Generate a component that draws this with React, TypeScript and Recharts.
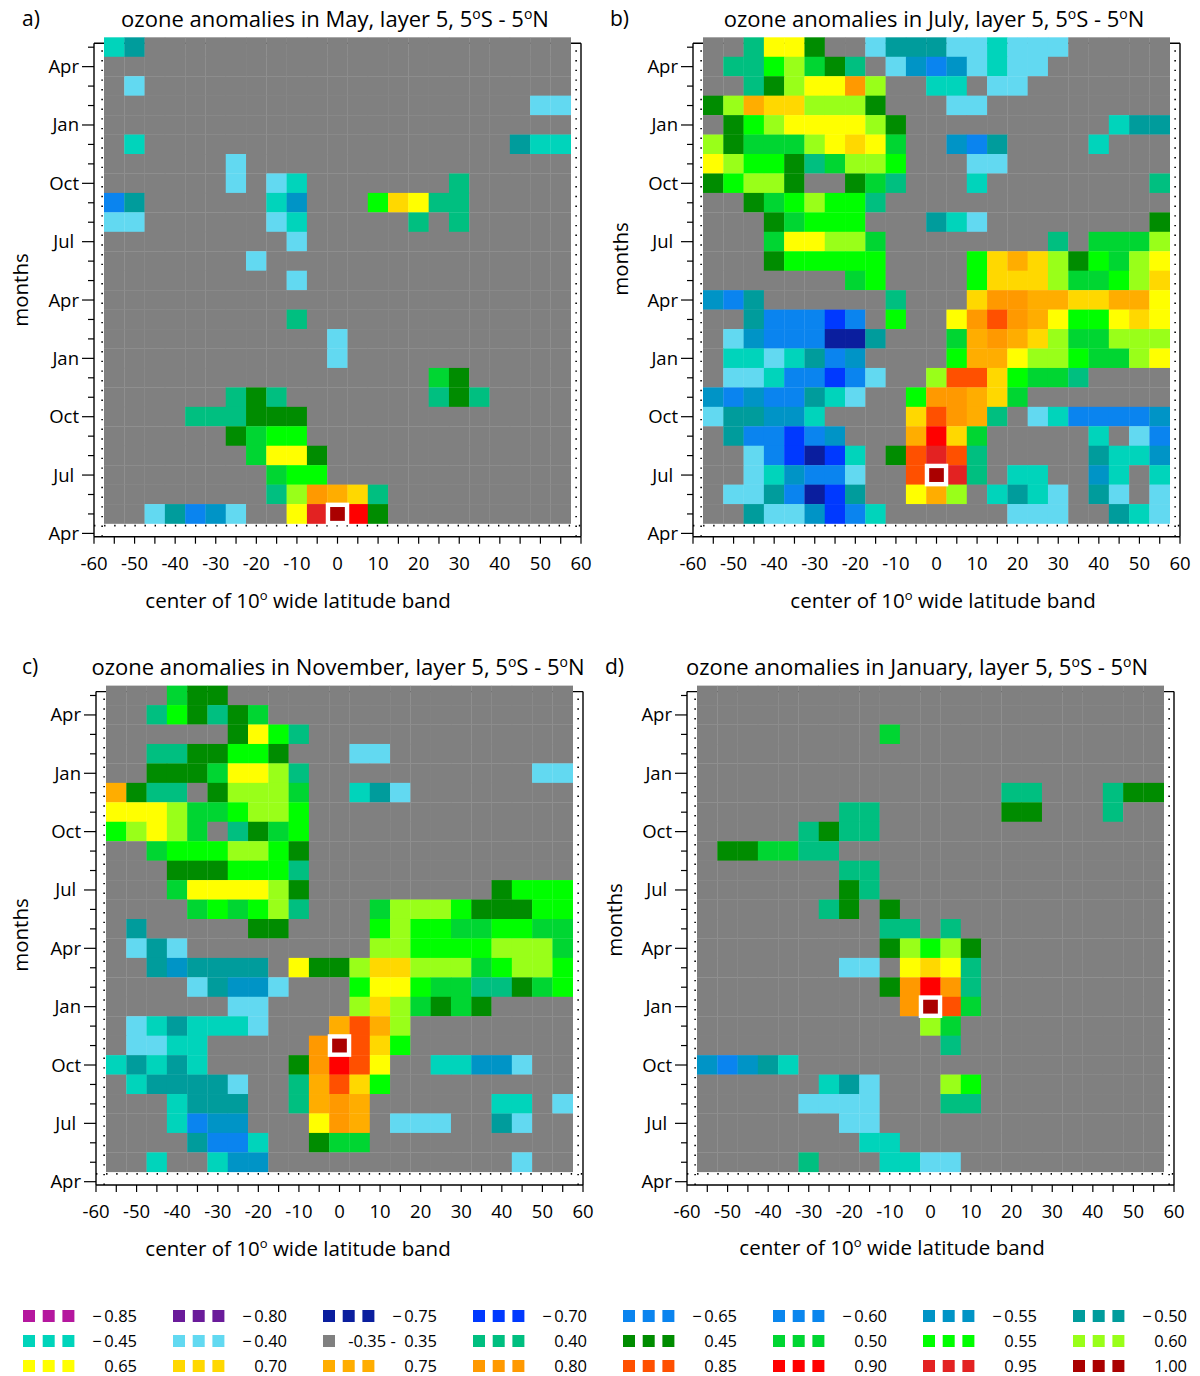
import React from 'react';
import { ScatterChart, Scatter, XAxis, YAxis, ReferenceLine } from 'recharts';

// ---------- data ----------
const LATITUDES = [-55, -50, -45, -40, -35, -30, -25, -20, -15, -10, -5, 0, 5, 10, 15, 20, 25, 30, 35, 40, 45, 50, 55];
const LAT_TICKS = [-60, -55, -50, -45, -40, -35, -30, -25, -20, -15, -10, -5, 0, 5, 10, 15, 20, 25, 30, 35, 40, 45, 50, 55, 60];
const LAT_LABELS = [-60, -50, -40, -30, -20, -10, 0, 10, 20, 30, 40, 50, 60];
const MONTH_TICKS = [0, 1, 2, 3, 4, 5, 6, 7, 8, 9, 10, 11, 12, 13, 14, 15, 16, 17, 18, 19, 20, 21, 22, 23, 24, 25];
const MONTH_LABELS: Record<number, string> = { 0: 'Apr', 3: 'Jul\u00A0', 6: 'Oct', 9: 'Jan', 12: 'Apr', 15: 'Jul\u00A0', 18: 'Oct', 21: 'Jan', 24: 'Apr' };

// class codes: '1'..'0' negative classes (-0.85 .. -0.40), '.' = -0.35..0.35, 'a'..'m' positive classes (0.40 .. 1.00)
const LEGEND_CODES = ['1', '2', '3', '4', '5', '6', '7', '8', '9', '0', '.', 'a', 'b', 'c', 'd', 'e', 'f', 'g', 'h', 'i', 'j', 'k', 'l', 'm'];
const LEGEND_LABELS = ['\u2212\u20090.85', '\u2212\u20090.80', '\u2212\u20090.75', '\u2212\u20090.70', '\u2212\u20090.65', '\u2212\u20090.60', '\u2212\u20090.55', '\u2212\u20090.50',
  '\u2212\u20090.45', '\u2212\u20090.40', '-0.35 -\u00A0 0.35', '0.40', '0.45', '0.50', '0.55', '0.60',
  '0.65', '0.70', '0.75', '0.80', '0.85', '0.90', '0.95', '1.00'];

// rows listed from month index 25 (top) down to month index 1 (bottom); '|' separates groups of 5 latitudes
const MAY_ROWS = [
  '98...|.....|.....|.....|...',
  '.....|.....|.....|.....|...',
  '.0...|.....|.....|.....|...',
  '.....|.....|.....|.....|.00',
  '.....|.....|.....|.....|...',
  '.9...|.....|.....|.....|899',
  '.....|.0...|.....|.....|...',
  '.....|.0.09|.....|..a..|...',
  '58...|...97|...dg|faa..|...',
  '00...|...09|.....|a.a..|...',
  '.....|....0|.....|.....|...',
  '.....|..0..|.....|.....|...',
  '.....|....0|.....|.....|...',
  '.....|.....|.....|.....|...',
  '.....|....a|.....|.....|...',
  '.....|.....|.0...|.....|...',
  '.....|.....|.0...|.....|...',
  '.....|.....|.....|.cb..|...',
  '.....|.aba.|.....|.aba.|...',
  '....a|aabbb|.....|.....|...',
  '.....|.bcdd|.....|.....|...',
  '.....|..cff|b....|.....|...',
  '.....|...cd|d....|.....|...',
  '.....|...ae|ihga.|.....|...',
  '..085|70..f|lmkb.|.....|...',
];

const JUL_ROWS = [
  '..aff|b..08|88009|000..|...',
  '.aade|cba.0|75709|00...|...',
  '..abe|ffie.|.99.0|0....|...',
  'behgg|eeeb.|..00.|.....|...',
  '.bdef|fffeb|.....|.....|988',
  'ebccc|efgfc|..758|....9|...',
  'feddb|aceed|...00|.....|...',
  'bdeeb|..bca|...9.|.....|..a',
  '..bcd|edda.|.....|.....|...',
  '...bc|ddd..|.890.|.....|..b',
  '...cf|feec.|.....|..a.c|cce',
  '...bd|dddd.|...dg|hgebd|cef',
  '.....|..cd.|...dg|ggecc|deg',
  '758..|....a|...gi|ihhgg|hhf',
  '..855|545.d|..fij|ihfdd|fgf',
  '.0755|5338.|..chi|hgecc|eee',
  '.9909|857..|..dhh|feedc|cef',
  '.0095|5450.|.ejjg|dcca.|...',
  '75755|890..|diihg|c....|...',
  '08877|9....|gjiha|.0955|557',
  '.8554|57...|hkgc.|....9|.05',
  '..054|349.b|jlja.|....8|997',
  '..097|550..|jmla.|99..7|9.9',
  '.0085|348..|fhe.9|890.8|0.0',
  '..800|7459.|.....|000..|890',
];

const NOV_ROWS = [
  '...cb|b....|.....|.....|...',
  '..adb|abc..|.....|.....|...',
  '.....|.bfda|.....|.....|...',
  '..aab|bddb.|..00.|.....|...',
  '..bbb|cffea|.....|.....|.00',
  'hbaa.|beeec|..980|.....|...',
  'fffec|cdeed|.....|.....|...',
  'defec|.abcd|.....|.....|...',
  '..cdd|deedb|.....|.....|...',
  '...bb|bddda|.....|.....|...',
  '...cf|fffeb|.....|....b|ddd',
  '....c|dcdea|...ce|eedbb|bdd',
  '.8...|..bb.|...de|ddccd|dcc',
  '.080.|.....|...ee|dddde|eec',
  '..878|888.f|bbegg|eeecd|eed',
  '....0|8770.|..dff|dccaa|bcd',
  '.....|.00..|..ege|cbcb.|...',
  '.0989|990..|.hjhe|.....|...',
  '.0099|.....|imjgd|.....|...',
  '98989|....b|ikjf.|.9977|0..',
  '.9888|80..a|hjgd.|.....|...',
  '...98|88..a|hih..|....9|9.0',
  '...95|77...|fih.0|00..8|0..',
  '....8|559..|bcc..|.....|...',
  '..9..|977..|.....|.....|0..',
];

const JAN_ROWS = [
  '.....|.....|.....|.....|...',
  '.....|.....|.....|.....|...',
  '.....|....c|.....|.....|...',
  '.....|.....|.....|.....|...',
  '.....|.....|.....|.....|...',
  '.....|.....|.....|aa...|abb',
  '.....|..aa.|.....|bb...|a..',
  '.....|abaa.|.....|.....|...',
  '.bbcc|aa...|.....|.....|...',
  '.....|..aa.|.....|.....|...',
  '.....|..ba.|.....|.....|...',
  '.....|.ab.b|.....|.....|...',
  '.....|....a|a.a..|.....|...',
  '.....|....b|edeb.|.....|...',
  '.....|..00.|fgfa.|.....|...',
  '.....|....b|ikia.|.....|...',
  '.....|.....|imjc.|.....|...',
  '.....|.....|.ec..|.....|...',
  '.....|.....|..a..|.....|...',
  '75789|.....|.....|.....|...',
  '.....|.980.|..ed.|.....|...',
  '.....|0000.|..aa.|.....|...',
  '.....|..00.|.....|.....|...',
  '.....|...99|.....|.....|...',
  '.....|a...9|900..|.....|...',
];

// ---------- styles ----------
const COLORS: Record<string, string> = {
  '1': '#b5179e', '2': '#6a1b9a', '3': '#0a1e9e', '4': '#0039ff', '5': '#0a84ef',
  '6': '#0a86ee', '7': '#0094c6', '8': '#009c9c', '9': '#00d4bb', '0': '#62d9f1',
  '.': '#808080',
  'a': '#00bf80', 'b': '#008c00', 'c': '#00d632', 'd': '#00ff00', 'e': '#99ff19',
  'f': '#ffff00', 'g': '#ffd800', 'h': '#ffad00', 'i': '#ff9900', 'j': '#ff5000',
  'k': '#ff0000', 'l': '#e32222', 'm': '#aa0000',
};

const FONT = "'Open Sans', 'Noto Sans', 'DejaVu Sans', sans-serif";
const PAGE_W = 1200;
const PAGE_H = 1376;
const X_MIN = -60;
const X_MAX = 60;
const Y_MIN = -0.17;
const Y_MAX = 25.2;
const XAXIS_H = 40;
const YAXIS_W = 60;

type PanelCfg = {
  tag: string; month: string; rows: string[]; refMonth: number; gaps: number[];
  x0: number; x1: number; yTop: number; yBot: number;
  tagX: number; titleX: number; titleY: number; monthsX: number; monthsY: number; axTitleX: number; axTitleY: number;
};

const PANELS: PanelCfg[] = [
  { tag: 'a)', month: 'May', rows: MAY_ROWS, refMonth: 1, gaps: [-37.5, -22.5, -7.5, 7.5, 27.5, 42.5],
    x0: 94, x1: 581, yTop: 43.3, yBot: 536.7, tagX: 22, titleX: 335, titleY: 27, monthsX: 28, monthsY: 290, axTitleX: 298, axTitleY: 608 },
  { tag: 'b)', month: 'July', rows: JUL_ROWS, refMonth: 3, gaps: [-12.5, 7.5, 22.5],
    x0: 693, x1: 1180, yTop: 43.3, yBot: 536.7, tagX: 610, titleX: 934, titleY: 27, monthsX: 628, monthsY: 259, axTitleX: 943, axTitleY: 608 },
  { tag: 'c)', month: 'November', rows: NOV_ROWS, refMonth: 7, gaps: [-12.5, 7.5, 22.5, 37.5],
    x0: 96, x1: 583, yTop: 691.6, yBot: 1185, tagX: 22, titleX: 338, titleY: 675, monthsX: 28, monthsY: 935, axTitleX: 298, axTitleY: 1256 },
  { tag: 'd)', month: 'January', rows: JAN_ROWS, refMonth: 9, gaps: [-42.5, -32.5, -12.5, 2.5, 17.5, 32.5, 52.5],
    x0: 687, x1: 1174, yTop: 691.6, yBot: 1185, tagX: 605, titleX: 917, titleY: 675, monthsX: 622, monthsY: 920, axTitleX: 892, axTitleY: 1255 },
];

const XTick = (props: any) => {
  const { x, y, payload } = props;
  const v = payload.value;
  const labeled = LAT_LABELS.indexOf(v) >= 0;
  return (
    <g>
      <line x1={x} x2={x} y1={y} y2={y + 7} stroke="#000" strokeWidth={1.2} />
      {labeled && (
        <text x={x} y={y + 33} textAnchor="middle" fontSize={18.5} fontFamily={FONT} fill="#000">{String(v)}</text>
      )}
    </g>
  );
};

const YTick = (props: any) => {
  const { x, y, payload } = props;
  const label = MONTH_LABELS[payload.value];
  const len = label ? 12 : 6;
  return (
    <g>
      <line x1={x - len} x2={x} y1={y} y2={y} stroke="#000" strokeWidth={1.2} />
      {label && (
        <text x={x - 15} y={y + 6.5} textAnchor="end" fontSize={18.5} fontFamily={FONT} fill="#000">{label}</text>
      )}
    </g>
  );
};

function Panel({ cfg }: { cfg: PanelCfg }) {
  const pxDeg = (cfg.x1 - cfg.x0) / (X_MAX - X_MIN);
  const pxMonth = (cfg.yBot - cfg.yTop) / (Y_MAX - Y_MIN);
  const cellW = 5 * pxDeg;
  const cellH = pxMonth;
  const cells: { x: number; y: number; code: string }[] = [];
  cfg.rows.forEach((row, i) => {
    const codes = row.replace(/\|/g, '');
    const month = cfg.rows.length - i;
    LATITUDES.forEach((lat, c) => cells.push({ x: lat, y: month, code: codes[c] }));
  });
  const ref = [{ x: 0, y: cfg.refMonth }];

  const cellShape = (p: any) => (
    <rect x={p.cx - cellW / 2 - 0.15} y={p.cy - cellH / 2 - 0.15} width={cellW + 0.3} height={cellH + 0.3}
      fill={COLORS[p.payload.code] || '#808080'} />
  );
  const refShape = (p: any) => (
    <rect x={p.cx - cellW / 2 + 0.6} y={p.cy - cellH / 2 + 0.6} width={cellW - 1.2} height={cellH - 1.2}
      fill={COLORS['m']} stroke="#ffffff" strokeWidth={4.4} />
  );

  return (
    <div style={{ position: 'absolute', left: 0, top: 0 }}>
      <ScatterChart width={PAGE_W} height={PAGE_H}
        margin={{ top: cfg.yTop, right: PAGE_W - cfg.x1, bottom: PAGE_H - cfg.yBot - XAXIS_H, left: cfg.x0 - YAXIS_W }}>
        <XAxis type="number" dataKey="x" domain={[X_MIN, X_MAX]} ticks={LAT_TICKS} interval={0} height={XAXIS_H}
          tickSize={0} tickMargin={0} tickLine={false} axisLine={{ stroke: '#000', strokeWidth: 1.4 }}
          tick={(p: any) => <XTick {...p} />} />
        <YAxis type="number" dataKey="y" domain={[Y_MIN, Y_MAX]} ticks={MONTH_TICKS} interval={0} width={YAXIS_W}
          tickSize={0} tickMargin={0} tickLine={false} axisLine={{ stroke: '#000', strokeWidth: 1.4 }}
          tick={(p: any) => <YTick {...p} />} />
        <Scatter data={cells} isAnimationActive={false} shape={cellShape} />
        {cfg.gaps.map((g) => (
          <ReferenceLine key={g} ifOverflow="visible" stroke="#ffffff" strokeWidth={1.2}
            segment={[{ x: g, y: 0.5 }, { x: g, y: 25.5 }]} />
        ))}
        <Scatter data={ref} isAnimationActive={false} shape={refShape} />
        <ReferenceLine y={Y_MAX} stroke="#000" strokeWidth={1.4} />
        <ReferenceLine x={X_MAX} stroke="#000" strokeWidth={1.4} />
        <ReferenceLine x={-58} stroke="#000" strokeWidth={1.6} strokeDasharray="1.4 8.3" />
        <ReferenceLine x={58.8} stroke="#000" strokeWidth={1.6} strokeDasharray="1.4 8.3" />
        <ReferenceLine y={0.4} stroke="#000" strokeWidth={1.6} strokeDasharray="1.4 8.7" />
      </ScatterChart>
    </div>
  );
}

function Sup({ children }: { children: string }) {
  return <tspan dy={-8.5} fontSize={14}>{children}</tspan>;
}

function Texts() {
  return (
    <svg width={PAGE_W} height={PAGE_H} style={{ position: 'absolute', left: 0, top: 0, pointerEvents: 'none' }}>
      {PANELS.map((p) => (
        <g key={p.tag} fontFamily={FONT} fill="#000">
          <text x={p.tagX} y={p.titleY - 1} fontSize={21}>{p.tag}</text>
          <text x={p.titleX} y={p.titleY} fontSize={22} textAnchor="middle">
            {`ozone anomalies in ${p.month}, layer 5, 5`}
            <Sup>o</Sup>
            <tspan dy={8.5}>S - 5</tspan>
            <Sup>o</Sup>
            <tspan dy={8.5}>N</tspan>
          </text>
          <text x={p.axTitleX} y={p.axTitleY} fontSize={20.5} textAnchor="middle">
            {'center of 10'}
            <tspan dy={-8} fontSize={13}>o</tspan>
            <tspan dy={8}>{' wide latitude band'}</tspan>
          </text>
          <text x={p.monthsX} y={p.monthsY} fontSize={20.5} textAnchor="middle"
            transform={`rotate(-90 ${p.monthsX} ${p.monthsY})`}>months</text>
        </g>
      ))}
      <g fontFamily={FONT} fill="#000">
        {LEGEND_CODES.map((code, i) => {
          const col = i % 8;
          const row = Math.floor(i / 8);
          const bx = 23 + 150 * col;
          const cy = 1316 + 25 * row;
          const n = code === '.' ? 1 : 3;
          const squares = [];
          for (let j = 0; j < n; j++) {
            squares.push(<rect key={j} x={bx + 19.7 * j} y={cy - 6} width={12} height={12} fill={COLORS[code]} />);
          }
          return (
            <g key={code}>
              {squares}
              <text x={137 + 150 * col} y={cy + 6} fontSize={16.5} textAnchor="end">{LEGEND_LABELS[i]}</text>
            </g>
          );
        })}
      </g>
    </svg>
  );
}

export default function App() {
  return (
    <div style={{ position: 'absolute', left: 0, top: 0, width: PAGE_W, height: PAGE_H, background: '#fff' }}>
      {PANELS.map((p) => (
        <Panel key={p.tag} cfg={p} />
      ))}
      <Texts />
    </div>
  );
}
